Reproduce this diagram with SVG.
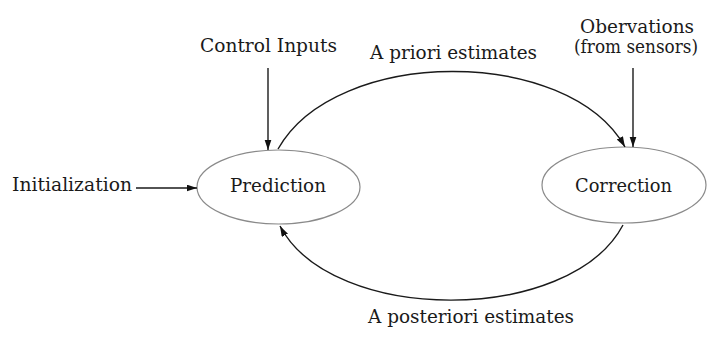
<svg xmlns="http://www.w3.org/2000/svg" width="727" height="356" viewBox="0 0 727 356">
<style>
text{font-family:"DejaVu Serif","Liberation Serif",serif;font-size:18px;fill:#1a1a1a}
.node ellipse{fill:#fff;stroke:#8a8a8a;stroke-width:1.2}
.edge{fill:none;stroke:#1a1a1a;stroke-width:1.4}
</style>
<defs>
<marker id="ah" markerUnits="userSpaceOnUse" markerWidth="11" markerHeight="8" refX="10.5" refY="3.5" orient="auto">
<path d="M0,0 L10.5,3.5 L0,7 z" fill="#111"/>
</marker>
</defs>
<rect width="727" height="356" fill="#fff"/>
<g id="prediction" class="node">
<ellipse cx="278.5" cy="187" rx="81.5" ry="37"/>
<text x="230" y="192" textLength="96" lengthAdjust="spacingAndGlyphs">Prediction</text>
</g>
<g id="correction" class="node">
<ellipse cx="624" cy="185" rx="82" ry="38"/>
<text x="575" y="192" textLength="97" lengthAdjust="spacingAndGlyphs">Correction</text>
</g>
<g id="initialization">
<text x="12" y="191" textLength="120" lengthAdjust="spacingAndGlyphs">Initialization</text>
</g>
<g id="control-inputs">
<text x="200" y="52" textLength="137" lengthAdjust="spacingAndGlyphs">Control Inputs</text>
</g>
<g id="observations">
<text x="580" y="33" textLength="114" lengthAdjust="spacingAndGlyphs">Obervations</text>
<text x="574" y="53" textLength="124" lengthAdjust="spacingAndGlyphs">(from sensors)</text>
</g>
<g id="connectors">
<line class="edge" x1="136" y1="188" x2="197" y2="188" marker-end="url(#ah)"/>
<line class="edge" x1="268" y1="68" x2="268" y2="150" marker-end="url(#ah)"/>
<line class="edge" x1="633" y1="68" x2="633" y2="147" marker-end="url(#ah)"/>
<path class="edge" d="M 278 149 C 336 46, 568 46, 625 147" marker-end="url(#ah)"/>
<path class="edge" d="M 623 225 C 570 325, 332 325, 280 226" marker-end="url(#ah)"/>
<text x="370" y="59" textLength="167" lengthAdjust="spacingAndGlyphs">A priori estimates</text>
<text x="368" y="323" textLength="206" lengthAdjust="spacingAndGlyphs">A posteriori estimates</text>
</g>
</svg>
